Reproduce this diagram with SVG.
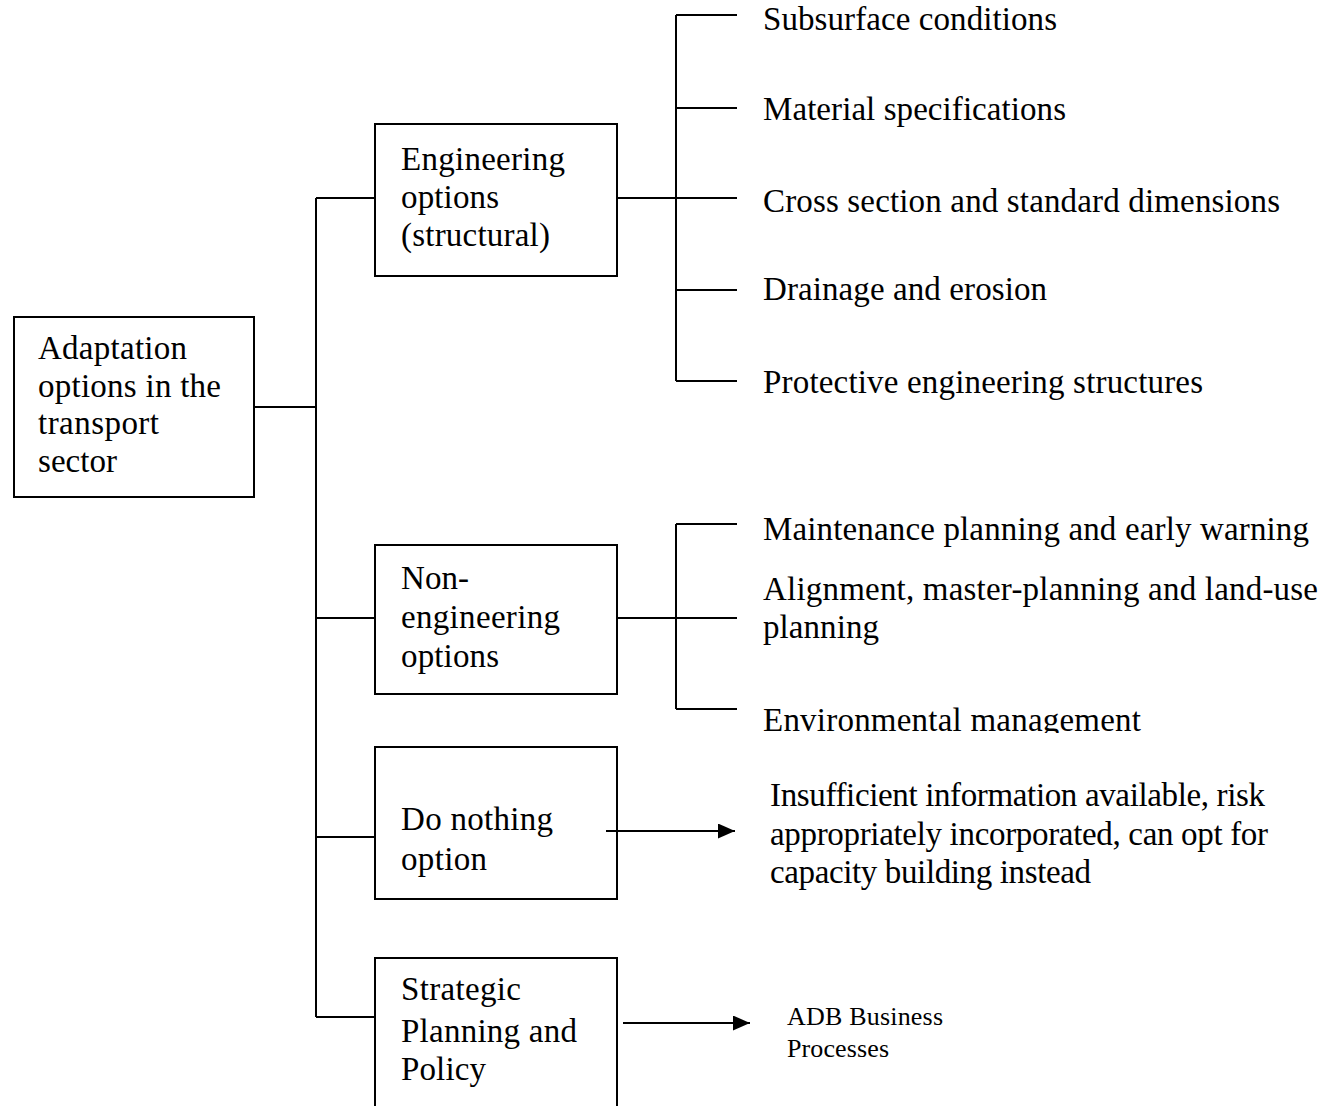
<svg xmlns="http://www.w3.org/2000/svg" width="1324" height="1106" viewBox="0 0 1324 1106">
<style>
.box{fill:#fff;stroke:#000;stroke-width:2}
.ln{fill:none;stroke:#000;stroke-width:2}
text{font-family:"Liberation Serif","Times New Roman",serif;font-size:33px;fill:#000}
.sm{font-size:26px}
</style>
<defs>
<marker id="ah" markerUnits="userSpaceOnUse" markerWidth="18" markerHeight="16" refX="17" refY="7.5" orient="auto">
<path d="M0,0 L17,7.5 L0,15 z" fill="#000"/>
</marker>
<clipPath id="clipEnv"><rect x="740" y="690" width="500" height="43"/></clipPath>
</defs>
<rect width="1324" height="1106" fill="#fff"/>
<g id="connectors">
<path class="ln" d="M316,198 V1017"/>
<path class="ln" d="M254,407 H316"/>
<path class="ln" d="M316,198 H375"/>
<path class="ln" d="M316,618 H375"/>
<path class="ln" d="M316,837 H375"/>
<path class="ln" d="M316,1017 H375"/>
<path class="ln" d="M617,198 H676"/>
<path class="ln" d="M676,15 V381"/>
<path class="ln" d="M676,15 H737 M676,108 H737 M676,198 H737 M676,290 H737 M676,381 H737"/>
<path class="ln" d="M617,618 H676"/>
<path class="ln" d="M676,524 V709"/>
<path class="ln" d="M676,524 H737 M676,618 H737 M676,709 H737"/>
</g>
<g id="root">
<rect class="box" x="14" y="317" width="240" height="180"/>
<text x="38" y="359" textLength="149">Adaptation</text>
<text x="38" y="397" textLength="183">options in the</text>
<text x="38" y="434" textLength="121">transport</text>
<text x="38" y="472" textLength="79">sector</text>
</g>
<g id="engineering">
<rect class="box" x="375" y="124" width="242" height="152"/>
<text x="401" y="170" textLength="164">Engineering</text>
<text x="401" y="208" textLength="98">options</text>
<text x="401" y="246" textLength="149">(structural)</text>
</g>
<g id="subsurface"><text x="763" y="30" textLength="294">Subsurface conditions</text></g>
<g id="material"><text x="763" y="120" textLength="303">Material specifications</text></g>
<g id="cross"><text x="763" y="212" textLength="517">Cross section and standard dimensions</text></g>
<g id="drainage"><text x="763" y="300" textLength="284">Drainage and erosion</text></g>
<g id="protective"><text x="763" y="393" textLength="440">Protective engineering structures</text></g>
<g id="nonengineering">
<rect class="box" x="375" y="545" width="242" height="149"/>
<text x="401" y="589" textLength="68">Non-</text>
<text x="401" y="628" textLength="159">engineering</text>
<text x="401" y="667" textLength="98">options</text>
</g>
<g id="maintenance"><text x="763" y="540" textLength="546">Maintenance planning and early warning</text></g>
<g id="alignment">
<text x="763" y="600" textLength="555">Alignment, master-planning and land-use</text>
<text x="763" y="638" textLength="116">planning</text>
</g>
<g id="environmental"><text x="763" y="731" textLength="378" clip-path="url(#clipEnv)">Environmental management</text></g>
<g id="donothing">
<rect class="box" x="375" y="747" width="242" height="152"/>
<text x="401" y="830" textLength="152">Do nothing</text>
<text x="401" y="870" textLength="86">option</text>
</g>
<g id="insufficient">
<text x="770" y="806" textLength="495">Insufficient information available, risk</text>
<text x="770" y="845" textLength="498">appropriately incorporated, can opt for</text>
<text x="770" y="883" textLength="321">capacity building instead</text>
</g>
<g id="strategic">
<rect class="box" x="375" y="958" width="242" height="160"/>
<text x="401" y="1000" textLength="120">Strategic</text>
<text x="401" y="1042" textLength="176">Planning and</text>
<text x="401" y="1080" textLength="85">Policy</text>
</g>
<g id="adb">
<text class="sm" x="787" y="1025" textLength="156">ADB Business</text>
<text class="sm" x="787" y="1057" textLength="102">Processes</text>
</g>
<g id="arrows">
<line class="ln" x1="606" y1="831" x2="735" y2="831" marker-end="url(#ah)"/>
<line class="ln" x1="623" y1="1023" x2="750" y2="1023" marker-end="url(#ah)"/>
</g>
</svg>
